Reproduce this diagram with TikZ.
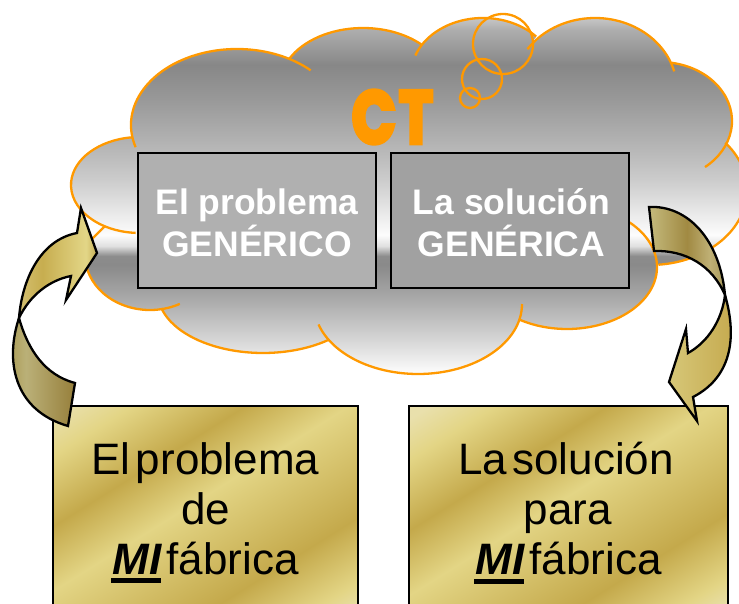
\documentclass[tikz,border=0pt]{standalone}
\usepackage{fontspec}
\setmainfont{Liberation Sans}
\newfontfamily\logofont[FakeBold=6]{Poppins}
\usetikzlibrary{shadings}
\definecolor{cloudline}{HTML}{FF9900}
\definecolor{goldA}{HTML}{E9E0AC}
\definecolor{goldB}{HTML}{E3D585}
\definecolor{goldC}{HTML}{C4A94B}
\pgfdeclareverticalshading{cloudshade}{100bp}{
 rgb(0bp)=(1,1,1); rgb(25bp)=(1,1,1); rgb(29.86bp)=(.84,.84,.84); rgb(35.42bp)=(.67,.67,.67);
 rgb(40.28bp)=(.54,.54,.54); rgb(41.53bp)=(.55,.55,.55); rgb(42.92bp)=(.88,.88,.88); rgb(44.44bp)=(.99,.99,.99);
 rgb(52.08bp)=(.80,.80,.80); rgb(56.25bp)=(.72,.72,.72); rgb(63.19bp)=(.60,.60,.60); rgb(68.06bp)=(.53,.53,.53);
 rgb(72.92bp)=(.68,.68,.68); rgb(75bp)=(.80,.80,.80); rgb(100bp)=(.80,.80,.80)}
\pgfdeclareverticalshading{goldshade}{100bp}{
 color(0bp)=(goldA); color(36.25bp)=(goldA); color(38.33bp)=(goldB); color(42.92bp)=(goldC);
 color(51.25bp)=(goldB); color(55.83bp)=(goldC); color(60.83bp)=(goldB); color(63.75bp)=(goldA); color(100bp)=(goldA)}
\pgfdeclarehorizontalshading{arrowA}{100bp}{rgb(0bp)=(.83,.75,.44); rgb(25bp)=(.83,.75,.44); rgb(40bp)=(.78,.68,.31); rgb(68bp)=(.89,.84,.53); rgb(75bp)=(.77,.68,.33); rgb(100bp)=(.77,.68,.33)}
\pgfdeclarehorizontalshading{arrowB}{100bp}{rgb(0bp)=(.66,.60,.31); rgb(25bp)=(.66,.60,.31); rgb(40bp)=(.73,.69,.47); rgb(75bp)=(.59,.50,.23); rgb(100bp)=(.59,.50,.23)}
\pgfdeclarehorizontalshading{arrowC}{100bp}{rgb(0bp)=(.77,.73,.49); rgb(25bp)=(.77,.73,.49); rgb(50bp)=(.63,.54,.26); rgb(65bp)=(.75,.69,.46); rgb(75bp)=(.66,.60,.35); rgb(100bp)=(.66,.60,.35)}
\pgfdeclarehorizontalshading{arrowD}{100bp}{rgb(0bp)=(.84,.78,.47); rgb(25bp)=(.84,.78,.47); rgb(75bp)=(.77,.66,.30); rgb(100bp)=(.77,.66,.30)}
\tikzset{
 lobe/.style={draw=cloudline,line width=2.3pt},
 bubble/.style={circle,draw=cloudline,line width=2.3pt,inner sep=0pt},
 greybox/.style={rectangle,draw=black,line width=2pt,minimum width=238pt,minimum height=135pt,inner sep=0pt,align=center,text=white,
   font=\fontsize{35.5}{42}\selectfont\bfseries},
 goldbox/.style={rectangle,draw=black,line width=2pt,inner sep=0pt,align=center,minimum height=214pt,
   font=\fontsize{44}{50}\selectfont,
   path picture={\shade[shading=goldshade,shading angle=32] (path picture bounding box.center) +(-300,-300) rectangle +(300,300);}},
 ribbon/.style={draw=black,line width=2.3pt,line join=miter}
}
\newcommand\miword{\leavevmode\rlap{\kern-1pt\rule[-9pt]{50pt}{5pt}}{\bfseries\itshape MI}}
\newcommand\tightsp{\hspace{.12em}}
\newcommand\pushdown{\rule{0pt}{30pt}}
% a lobe: name, centre x, centre y, radius x, radius y, start angle, end angle (angles run clockwise on the page)
\newcommand\mklobe[7]{\expandafter\def\csname #1\endcsname{({#2+#4*cos(#6)},{#3+#5*sin(#6)}) arc[start angle=#6,end angle=#7,x radius=#4,y radius=#5]}}
\mklobe{lobeA}{237}{125}{106}{76}{163}{314}
\mklobe{lobeB}{363}{85}{83}{57}{207.7}{314.6}
\mklobe{lobeC}{483}{75}{72}{57}{200}{317.6}
\mklobe{lobeD}{595}{90}{82}{72}{214.5}{345}
\mklobe{lobeE}{660}{121}{72}{59}{279.6}{411.3}
\mklobe{lobeF}{650}{190}{97}{75}{321}{445}
\mklobe{lobeG}{567}{267}{90}{62}{311}{482.5}
\mklobe{lobeH}{418}{304}{104}{70}{0}{163}
\mklobe{lobeI}{263}{293}{105}{60}{50.8}{165.4}
\mklobe{lobeJj}{150}{255}{65}{55}{62.7}{190.5}
\def\lobeJ{\lobeJj -- (105,226)}
\mklobe{lobeK}{140}{185}{69}{48}{93.6}{263.4}
\newcommand\un[1]{\unexpanded\expandafter{#1}}
\edef\cloudoutline{\un\lobeA -- \un\lobeB -- \un\lobeC -- \un\lobeD -- \un\lobeE -- \un\lobeF -- \un\lobeG -- \un\lobeH -- \un\lobeI -- \un\lobeJj -- (105,226) -- \un\lobeK -- cycle}
\begin{document}
\begin{tikzpicture}[x=1pt,y=-1pt]
\path[use as bounding box,clip] (0,0) rectangle (739,604);
% cloud
\begin{scope}
 \clip \cloudoutline;
 \shade[shading=cloudshade] (0,15) rectangle (780,375);
\end{scope}
\foreach \l in {\lobeA,\lobeB,\lobeC,\lobeD,\lobeE,\lobeF,\lobeG,\lobeH,\lobeI,\lobeJ,\lobeK}{\draw[lobe] \l;}
% thought bubbles
\node[bubble,minimum size=60pt] (b1) at (503,44) {};
\node[bubble,minimum size=40pt] (b2) at (482,79) {};
\node[bubble,minimum size=20pt] (b3) at (470,98) {};
% logo
\node[text=cloudline,inner sep=0pt,font=\logofont\bfseries\fontsize{74}{74}\selectfont] (logo) at (392.5,117) {\scalebox{.78}[1]{C\kern4pt T}};
% generic boxes
\node[greybox,fill=black!31] (gp) at (257,220.5) {\pushdown El problema\\GENÉRICO};
\node[greybox,fill=black!37] (gs) at (510,220.5) {\pushdown\kern3pt La solución\\\kern3pt GENÉRICA};
% gold boxes
\node[goldbox,minimum width=305pt] (mp) at (205.5,513) {El\tightsp problema\\de\\\miword\tightsp fábrica};
\node[goldbox,minimum width=319pt] (ms) at (568.5,513) {\kern-5pt La\tightsp solución\\\kern-1pt para\\\miword\tightsp fábrica};
% left arrow
\shade[shading=arrowB,ribbon] (19,318) .. controls (5,360) and (13,410) .. (68,426) -- (75,383) .. controls (45,375) and (28,350) .. (19,318) -- cycle;
\shade[shading=arrowA,ribbon] (19,318) .. controls (22,280) and (40,240) .. (77,233) -- (81,208) -- (97,253) -- (66,300) -- (71,276) .. controls (50,280) and (30,295) .. (19,318) -- cycle;
% right arrow
\shade[shading=arrowD,ribbon] (725,295) .. controls (738,340) and (730,378) .. (693,397) -- (697,421) -- (669,382) -- (686,329) -- (688,353) .. controls (708,342) and (722,320) .. (725,295) -- cycle;
\shade[shading=arrowC,ribbon] (649,207) .. controls (688,205) and (720,240) .. (725,295) .. controls (712,265) and (685,250) .. (654,251) -- cycle;
\end{tikzpicture}
\end{document}
